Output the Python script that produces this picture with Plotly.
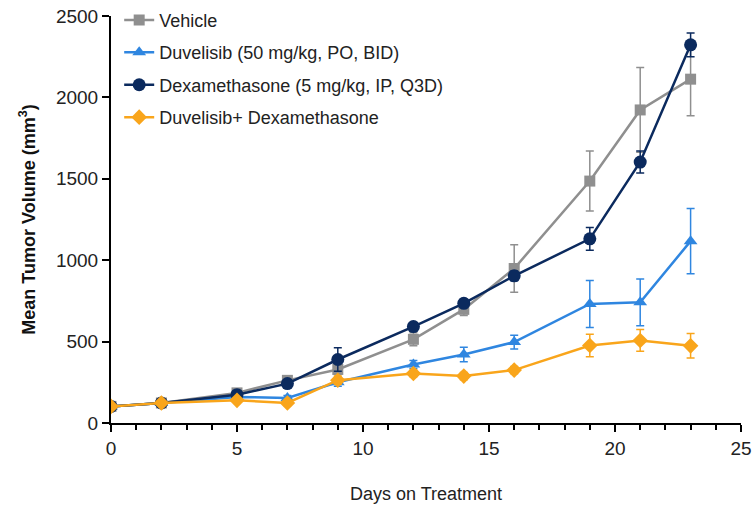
import plotly.graph_objects as go

days = [0, 2, 5, 7, 9, 12, 14, 16, 19, 21, 23]

vehicle = [102, 123, 185, 262, 329, 514, 698, 949, 1486, 1923, 2112]
vehicle_err = [10, 12, 20, 20, 30, 40, 38, 146, 184, 260, 225]

duvelisib = [102, 123, 160, 154, 250, 359, 421, 497, 731, 741, 1117]
duvelisib_err = [10, 10, 15, 15, 25, 25, 45, 42, 145, 144, 200]

dexa = [102, 123, 174, 242, 390, 592, 735, 904, 1131, 1603, 2323]
dexa_err = [10, 10, 18, 20, 72, 20, 25, 30, 70, 68, 73]

combo = [102, 123, 139, 123, 263, 304, 288, 325, 476, 507, 474]
combo_err = [10, 10, 15, 15, 25, 20, 22, 22, 69, 67, 75]

names = ["Vehicle", "Duvelisib (50 mg/kg, PO, BID)",
         "Dexamethasone (5 mg/kg, IP, Q3D)", "Duvelisib+ Dexamethasone"]
colors = ["#8f8f8f", "#2f86e0", "#0b2a5e", "#f9a51b"]
symbols = ["square", "triangle-up", "circle", "diamond"]
sizes = [11, 12, 13, 12]
series = [vehicle, duvelisib, dexa, combo]
errors = [vehicle_err, duvelisib_err, dexa_err, combo_err]

fig = go.Figure()
for i in range(4):
    fig.add_trace(go.Scatter(
        x=days, y=series[i], name=names[i], mode="lines+markers",
        legendgroup=str(i),
        line=dict(color=colors[i], width=2.5),
        marker=dict(symbol=symbols[i], size=sizes[i], color=colors[i]),
        error_y=dict(type="data", array=errors[i], visible=True,
                     color=colors[i], thickness=1.5, width=4),
    ))

tickfont = dict(family="Liberation Sans, Arial, sans-serif", size=19, color="#222")

fig.update_layout(
    width=754, height=510,
    margin=dict(l=111, r=13, t=16, b=87, autoexpand=False),
    paper_bgcolor="white", plot_bgcolor="white",
    showlegend=True,
    legend=dict(x=0.013, y=1.035, xanchor="left", yanchor="top",
                font=dict(family="Liberation Sans, Arial, sans-serif", size=18, color="#222"),
                bgcolor="rgba(0,0,0,0)", tracegroupgap=6),
    xaxis=dict(range=[0, 25], tickvals=[0, 5, 10, 15, 20, 25], automargin=False,
               showline=True, linecolor="black", linewidth=2,
               ticks="outside", ticklen=7, tickwidth=2, tickcolor="black",
               minor=dict(dtick=1, ticks="outside", ticklen=5, tickwidth=2, tickcolor="black"),
               showgrid=False, zeroline=False, tickfont=tickfont,
               title=dict(text="Days on Treatment", standoff=30,
                          font=dict(family="Liberation Sans, Arial, sans-serif",
                                    size=18, color="#222"))),
    yaxis=dict(range=[0, 2500], tickvals=[0, 500, 1000, 1500, 2000, 2500], automargin=False,
               showline=True, linecolor="black", linewidth=2,
               ticks="outside", ticklen=7, tickwidth=2, tickcolor="black",
               showgrid=False, zeroline=False, tickfont=tickfont,
               title=dict(text="<b>Mean Tumor Volume (mm<sup>3</sup>)</b>", standoff=16,
                          font=dict(family="Liberation Sans, Arial, sans-serif",
                                    size=18, color="#111"))),
)

fig.write_html("out.html")
